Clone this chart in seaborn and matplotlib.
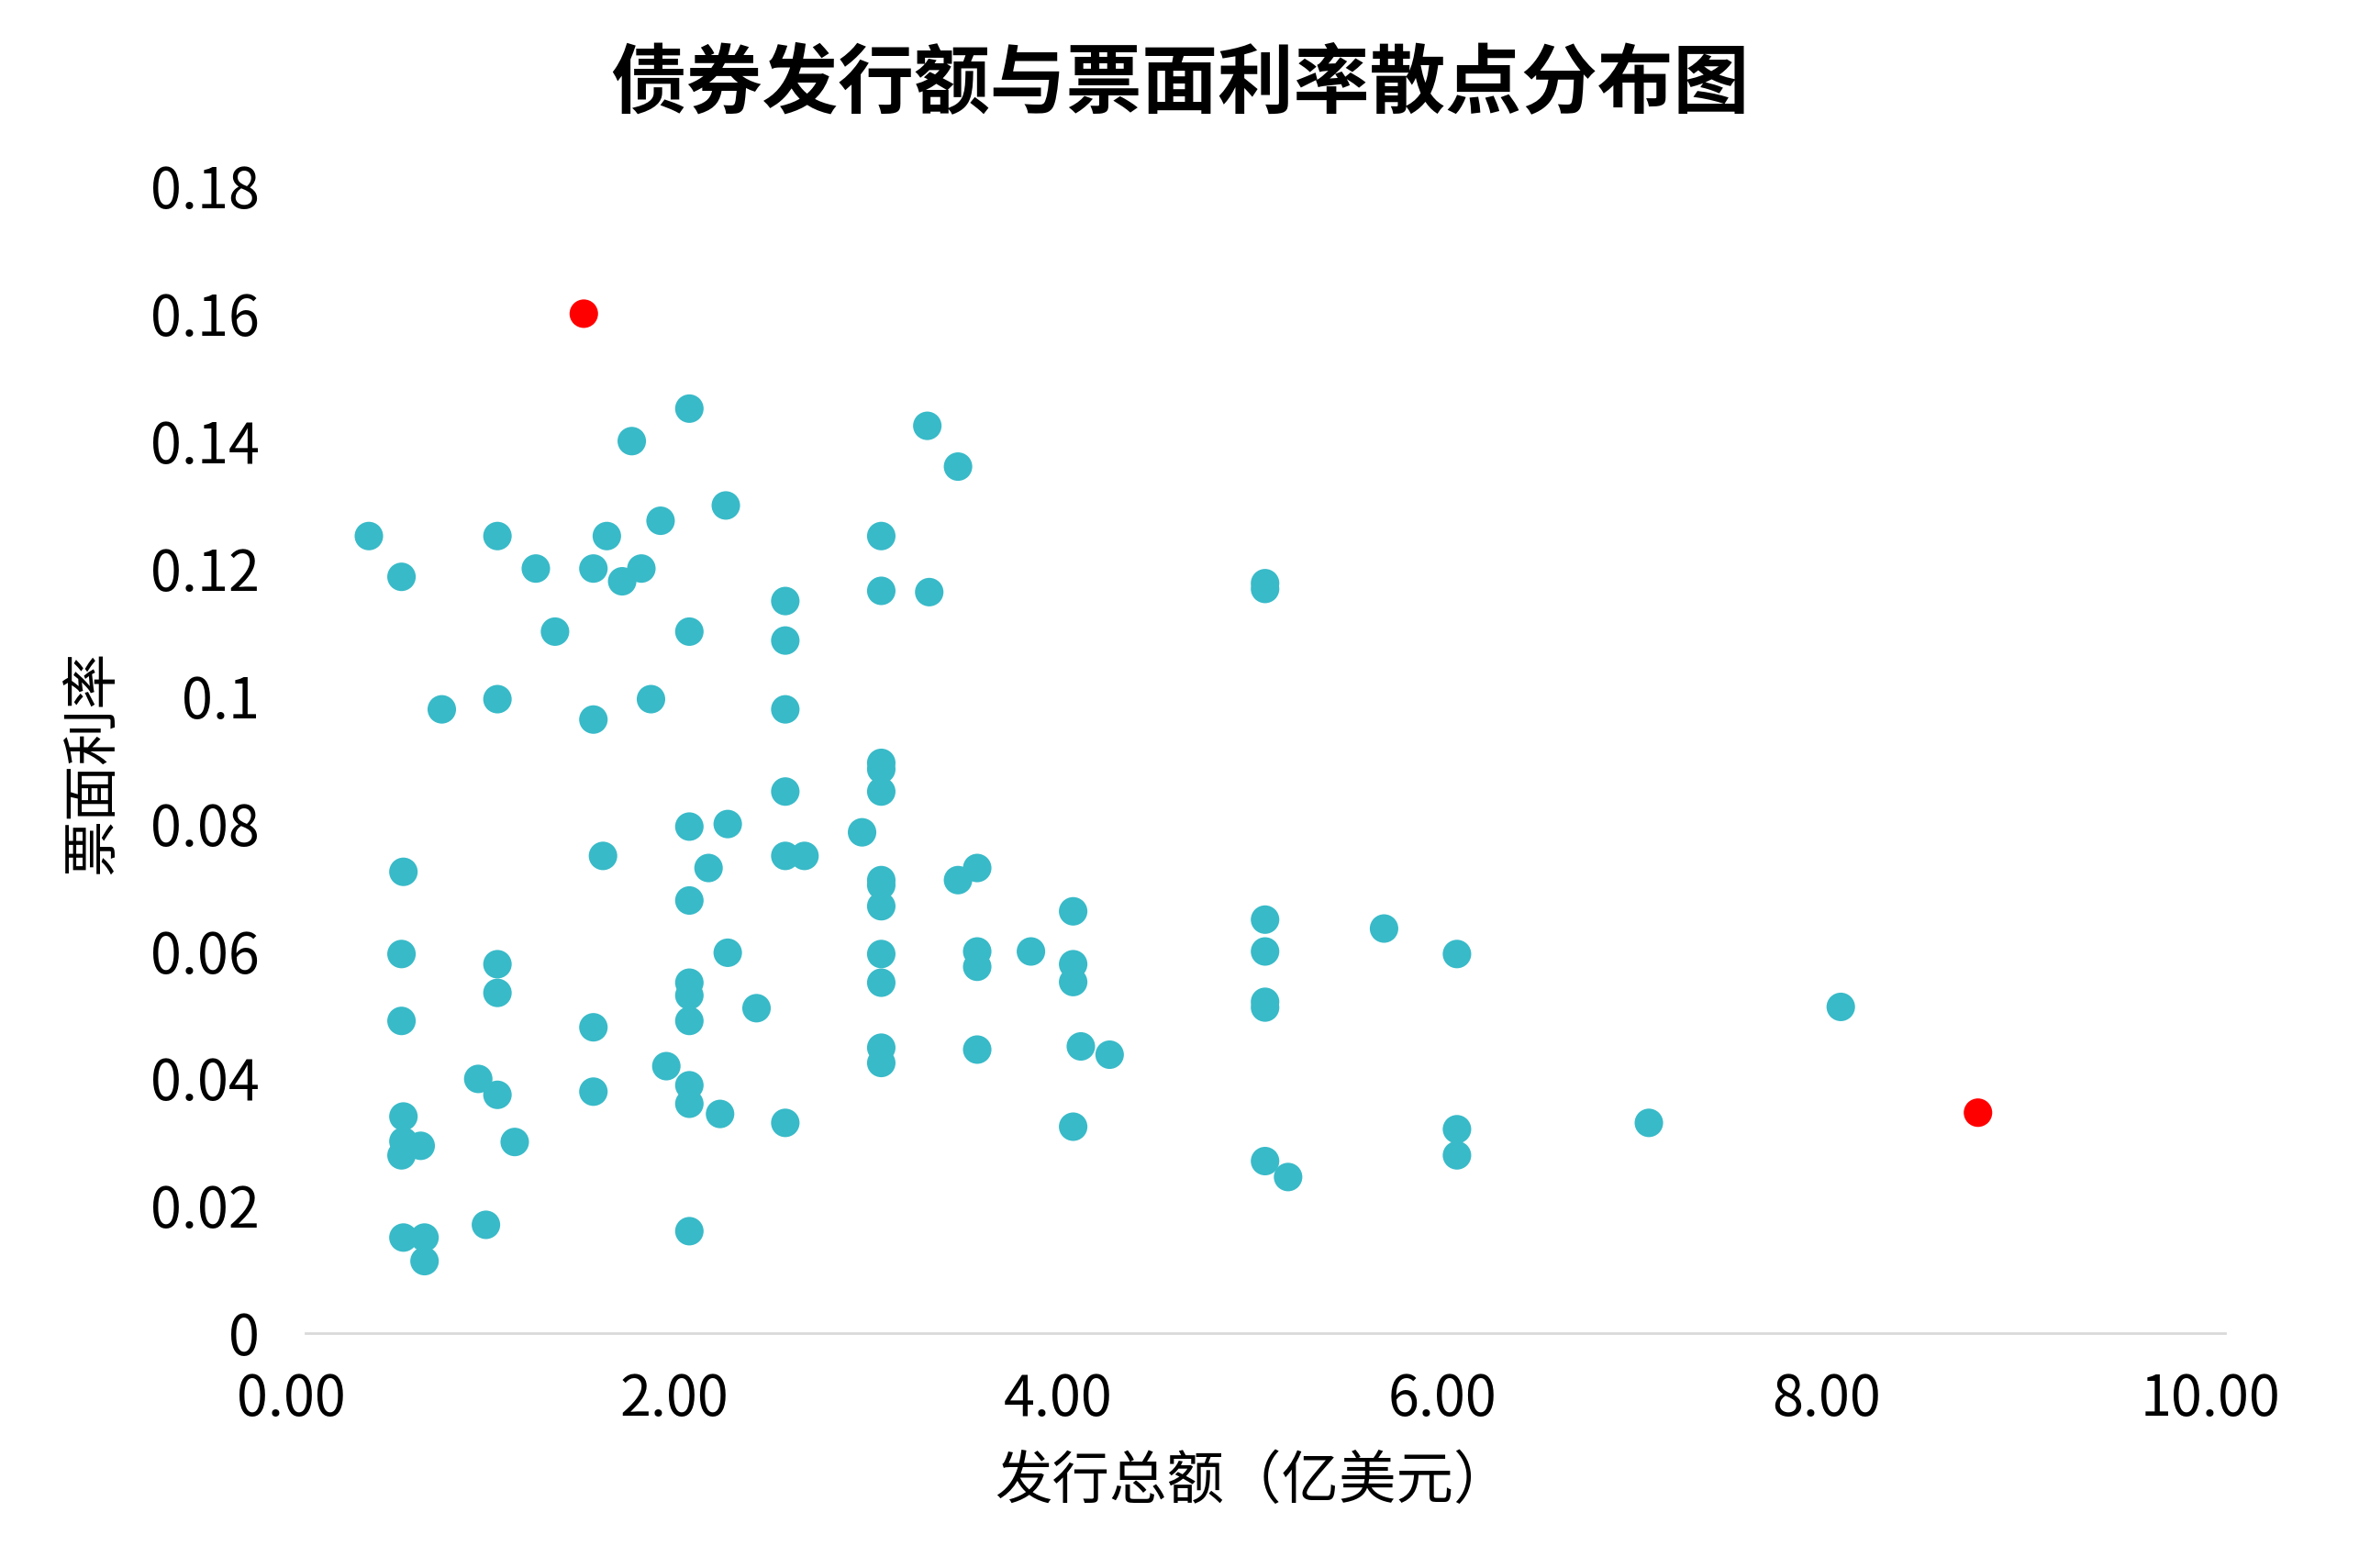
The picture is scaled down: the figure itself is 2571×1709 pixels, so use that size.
import matplotlib
matplotlib.use("Agg")
import matplotlib.pyplot as plt
import matplotlib.transforms as mtransforms
import seaborn as sns
import pandas as pd

# ---- data ----
issue_amount = [
    1.45, 2.00, 1.70, 3.24, 3.40, 2.19, 1.85, 0.33, 1.00, 1.57,
    3.00, 0.50, 1.20, 1.50, 1.75, 1.65, 2.50, 3.00, 3.25, 5.00,
    5.00, 1.30, 2.00, 2.50, 0.71, 1.00, 1.50, 1.80, 2.50, 3.00,
    3.00, 3.00, 2.50, 2.00, 2.20, 2.90, 1.55, 2.50, 2.60, 2.10,
    0.51, 3.00, 3.00, 3.00, 3.40, 3.50, 2.00, 4.00, 5.00, 5.62,
    6.00, 5.00, 3.50, 3.50, 3.78, 4.00, 4.00, 0.50, 1.00, 1.00,
    2.20, 3.00, 3.00, 2.00, 2.00, 2.00, 2.35, 0.50, 1.50, 5.00,
    5.00, 8.00, 3.00, 3.00, 3.50, 4.04, 4.19, 1.88, 0.90, 1.00,
    1.50, 2.00, 2.00, 2.16, 2.50, 4.00, 6.00, 7.00, 8.715, 6.00,
    5.00, 5.12, 0.51, 0.51, 0.60, 0.50, 1.09, 0.51, 0.62, 0.62,
    0.94, 2.00,
]
coupon_rate = [
    0.1600, 0.1451, 0.1400, 0.1424, 0.1360, 0.1299, 0.1275, 0.1251, 0.1251, 0.1251,
    0.1251, 0.1187, 0.1200, 0.1200, 0.1200, 0.1180, 0.1149, 0.1165, 0.1163, 0.1177,
    0.1168, 0.1101, 0.1101, 0.1087, 0.0979, 0.0995, 0.0963, 0.0995, 0.0979, 0.0895,
    0.0885, 0.0850, 0.0850, 0.0795, 0.0799, 0.0786, 0.0749, 0.0749, 0.0749, 0.0730,
    0.0724, 0.0711, 0.0703, 0.0670, 0.0711, 0.0730, 0.0679, 0.0662, 0.0649, 0.0635,
    0.0595, 0.0599, 0.0599, 0.0575, 0.0599, 0.0579, 0.0551, 0.0595, 0.0579, 0.0534,
    0.0597, 0.0595, 0.0550, 0.0550, 0.0530, 0.0490, 0.0510, 0.0490, 0.0480, 0.0520,
    0.0511, 0.0512, 0.0448, 0.0424, 0.0445, 0.0450, 0.0437, 0.0419, 0.0399, 0.0374,
    0.0379, 0.0389, 0.0360, 0.0344, 0.0330, 0.0324, 0.0320, 0.0330, 0.0346, 0.0279,
    0.0270, 0.0245, 0.0340, 0.0301, 0.0294, 0.0279, 0.0300, 0.0150, 0.0150, 0.0113,
    0.0170, 0.0160,
]
point_group = ["离群"] + ["常规"] * 87 + ["离群"] + ["常规"] * 13

group_colors = {"常规": "#38BAC8", "离群": "#FF0000"}

x_ticks = [0, 2, 4, 6, 8, 10]
x_tick_labels = ["0.00", "2.00", "4.00", "6.00", "8.00", "10.00"]
y_ticks = [0, 0.02, 0.04, 0.06, 0.08, 0.10, 0.12, 0.14, 0.16, 0.18]
y_tick_labels = ["0", "0.02", "0.04", "0.06", "0.08", "0.1", "0.12", "0.14", "0.16", "0.18"]

title_text = "债券发行额与票面利率散点分布图"
x_label = "发行总额（亿美元）"
y_label = "票面利率"

df = pd.DataFrame({"发行总额": issue_amount, "票面利率": coupon_rate, "类别": point_group})

# ---- style ----
sns.set_theme(style="white")
plt.rcParams["font.family"] = ["Noto Sans CJK SC", "DejaVu Sans"]

W, H = 2571, 1709
fig = plt.figure(figsize=(W / 200, H / 200), dpi=200)
ax = fig.add_axes([333 / W, 1 - 1453 / H, (2424.5 - 333) / W, (1453 - 203) / H])

sns.scatterplot(data=df, x="发行总额", y="票面利率", hue="类别", palette=group_colors,
                s=125, linewidth=0, alpha=1, legend=False, ax=ax, zorder=3)

ax.set_xlim(0, 10)
ax.set_ylim(0, 0.18)
ax.set_xticks(x_ticks)
ax.set_xticklabels(x_tick_labels)
ax.set_yticks(y_ticks)
ax.set_yticklabels(y_tick_labels)
ax.tick_params(axis="both", length=0, labelsize=22, colors="black")
ax.tick_params(axis="x", pad=15)
ax.tick_params(axis="y", pad=18)

# reference x tick labels sit slightly left of their ticks
shift = mtransforms.ScaledTranslation(-16 / 200, 0, fig.dpi_scale_trans)
for lbl in ax.get_xticklabels():
    lbl.set_transform(lbl.get_transform() + shift)

for side in ["top", "right", "left"]:
    ax.spines[side].set_visible(False)
ax.spines["bottom"].set_color("#D9D9D9")
ax.spines["bottom"].set_linewidth(1.0)
ax.grid(False)

ax.set_xlabel(x_label, fontsize=22.5, color="black", va="center")
ax.xaxis.set_label_coords(0.4935, (1453 - 1615) / 1250)
ax.set_ylabel(y_label, fontsize=22, color="black", va="center")
ax.yaxis.set_label_coords((102 - 333) / 2091, 0.4976)

fig.text(0.5, 1 - 92 / H, title_text, ha="center", va="center",
         fontsize=29.8, fontweight="bold", color="black")

fig.savefig("out.png", dpi=200, facecolor="white")
